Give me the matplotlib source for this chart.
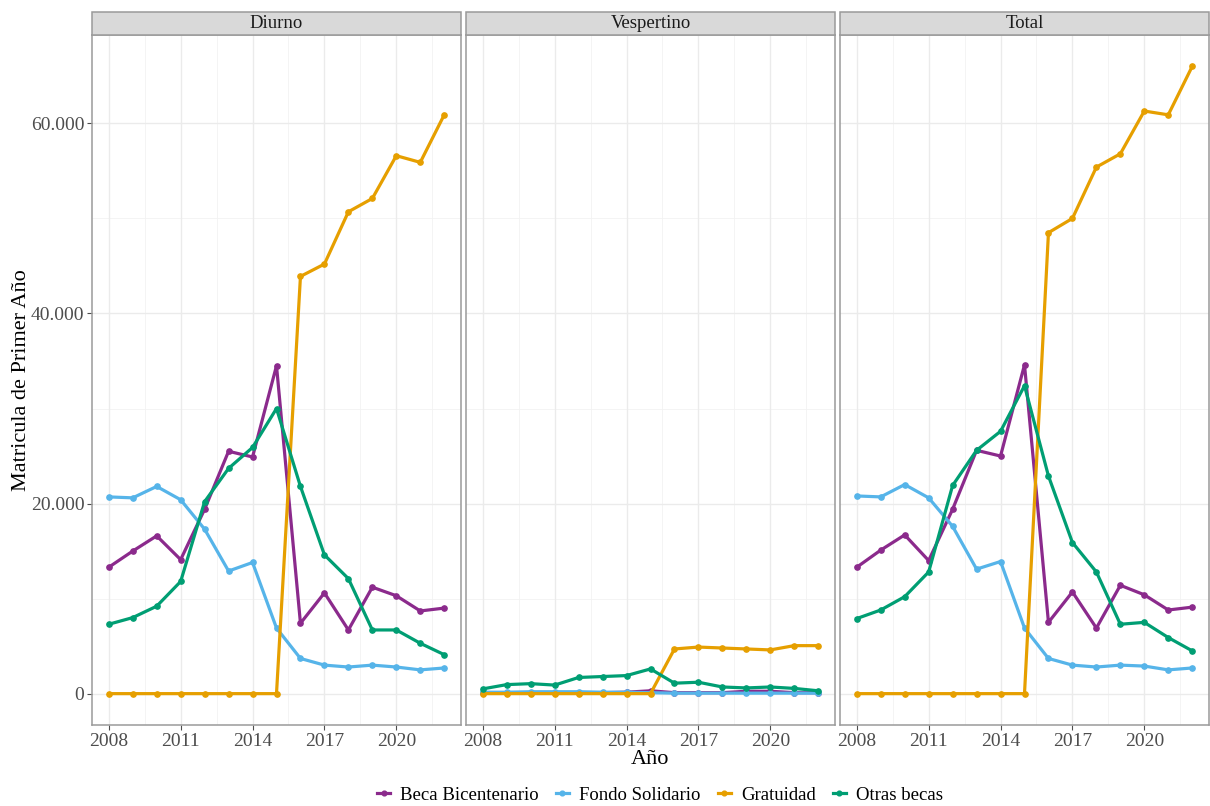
import matplotlib
matplotlib.use("Agg")
import matplotlib.pyplot as plt
from matplotlib.patches import Rectangle
from matplotlib.ticker import FuncFormatter, FixedLocator

plt.rcParams['font.family'] = ['Liberation Serif', 'DejaVu Serif']

years = list(range(2008, 2023))
panels = ["Diurno", "Vespertino", "Total"]
series = ["Beca Bicentenario", "Fondo Solidario", "Gratuidad", "Otras becas"]
colors = {"Beca Bicentenario": "#8B2A8C", "Fondo Solidario": "#56B4E9",
          "Gratuidad": "#E69F00", "Otras becas": "#009E73"}

# values in thousands
diurno_beca = [13.3, 15.0, 16.6, 14.1, 19.4, 25.5, 24.9, 34.5, 7.4, 10.6, 6.7, 11.2, 10.3, 8.7, 9.0]
diurno_fondo = [20.7, 20.6, 21.8, 20.4, 17.3, 12.9, 13.8, 6.9, 3.7, 3.0, 2.8, 3.0, 2.8, 2.5, 2.7]
diurno_grat = [0, 0, 0, 0, 0, 0, 0, 0, 43.9, 45.2, 50.7, 52.1, 56.6, 55.9, 60.9]
diurno_otras = [7.3, 8.0, 9.2, 11.8, 20.2, 23.7, 25.9, 30.0, 21.8, 14.6, 12.1, 6.7, 6.7, 5.3, 4.1]

vesp_beca = [0.05, 0.05, 0.1, 0.1, 0.1, 0.1, 0.15, 0.3, 0.1, 0.1, 0.1, 0.25, 0.25, 0.1, 0.1]
vesp_fondo = [0.15, 0.15, 0.2, 0.2, 0.2, 0.15, 0.15, 0.1, 0.05, 0.05, 0.05, 0.05, 0.05, 0.05, 0.05]
vesp_grat = [0, 0, 0, 0, 0, 0, 0, 0, 4.7, 4.9, 4.8, 4.7, 4.6, 5.05, 5.05]
vesp_otras = [0.5, 0.95, 1.05, 0.9, 1.7, 1.8, 1.9, 2.6, 1.1, 1.2, 0.7, 0.6, 0.7, 0.55, 0.3]

total_beca = [13.3, 15.1, 16.7, 14.0, 19.4, 25.6, 25.0, 34.6, 7.5, 10.7, 6.9, 11.4, 10.4, 8.8, 9.1]
total_fondo = [20.8, 20.7, 22.0, 20.6, 17.6, 13.1, 13.9, 6.9, 3.7, 3.0, 2.8, 3.0, 2.9, 2.5, 2.7]
total_grat = [0, 0, 0, 0, 0, 0, 0, 0, 48.5, 50.0, 55.4, 56.8, 61.3, 60.9, 66.0]
total_otras = [7.9, 8.8, 10.2, 12.8, 21.9, 25.6, 27.6, 32.4, 22.9, 15.9, 12.8, 7.3, 7.5, 5.9, 4.5]

data = {
    "Diurno": [diurno_beca, diurno_fondo, diurno_grat, diurno_otras],
    "Vespertino": [vesp_beca, vesp_fondo, vesp_grat, vesp_otras],
    "Total": [total_beca, total_fondo, total_grat, total_otras],
}

xticks = [2008, 2011, 2014, 2017, 2020]
yticks = [0, 20000, 40000, 60000]

W, H = 1210, 806
fig = plt.figure(figsize=(W / 100, H / 100), dpi=100)
fig.patch.set_facecolor("white")

lefts = [92, 466, 840]
pw = 369
top, bottom = 35, 725
strip_h = 23
border = "#9A9A9A"

axes = []
for i, name in enumerate(panels):
    ax = fig.add_axes([lefts[i] / W, (H - bottom) / H, pw / W, (bottom - top) / H])
    axes.append(ax)
    ax.set_xlim(2007.3, 2022.7)
    ax.set_ylim(-3300, 69300)
    ax.set_facecolor("white")
    # grids
    for xm in [2009.5, 2012.5, 2015.5, 2018.5, 2021.5]:
        ax.axvline(xm, color="#F2F2F2", lw=0.6, zorder=0)
    for ym in [10000, 30000, 50000]:
        ax.axhline(ym, color="#F2F2F2", lw=0.6, zorder=0)
    for xt in xticks:
        ax.axvline(xt, color="#EBEBEB", lw=1.0, zorder=0)
    for yt in yticks:
        ax.axhline(yt, color="#EBEBEB", lw=1.0, zorder=0)

    for s, vals in zip(series, data[name]):
        ax.plot(years, [v * 1000 for v in vals], color=colors[s], lw=2.3,
                marker="o", ms=3.8, label=s, zorder=3)

    ax.xaxis.set_major_locator(FixedLocator(xticks))
    ax.yaxis.set_major_locator(FixedLocator(yticks))
    ax.yaxis.set_major_formatter(FuncFormatter(lambda v, p: f"{int(v):,}".replace(",", ".")))
    ax.tick_params(axis="both", labelsize=14, colors="#4D4D4D", length=3.5, width=0.8,
                   labelcolor="#4D4D4D", pad=2)
    if i > 0:
        ax.tick_params(axis="y", left=False, labelleft=False)
    for sp in ax.spines.values():
        sp.set_color(border)
        sp.set_linewidth(1.1)

    # strip
    sh = strip_h / (bottom - top)
    ax.add_patch(Rectangle((0, 1), 1, sh, transform=ax.transAxes, clip_on=False,
                           facecolor="#D9D9D9", edgecolor=border, lw=1.1, zorder=5))
    ax.text(0.5, 1 + sh / 2, name, transform=ax.transAxes, ha="center", va="center",
            fontsize=13.5, color="#1A1A1A", zorder=6)

fig.text(650 / W, 1 - 760 / H, "Año", ha="center", va="center", fontsize=16, color="black")
fig.text(22 / W, 1 - 380 / H, "Matricula de Primer Año", ha="center", va="center",
         rotation=90, fontsize=16, color="black")

handles, labels = axes[0].get_legend_handles_labels()
fig.legend(handles, labels, loc="center", bbox_to_anchor=(660 / W, 1 - 795 / H), ncol=4,
           frameon=False, fontsize=13.5, handlelength=0.7, handletextpad=0.55,
           columnspacing=0.9, markerscale=0.9)

fig.savefig("out.png", dpi=100, facecolor="white")
